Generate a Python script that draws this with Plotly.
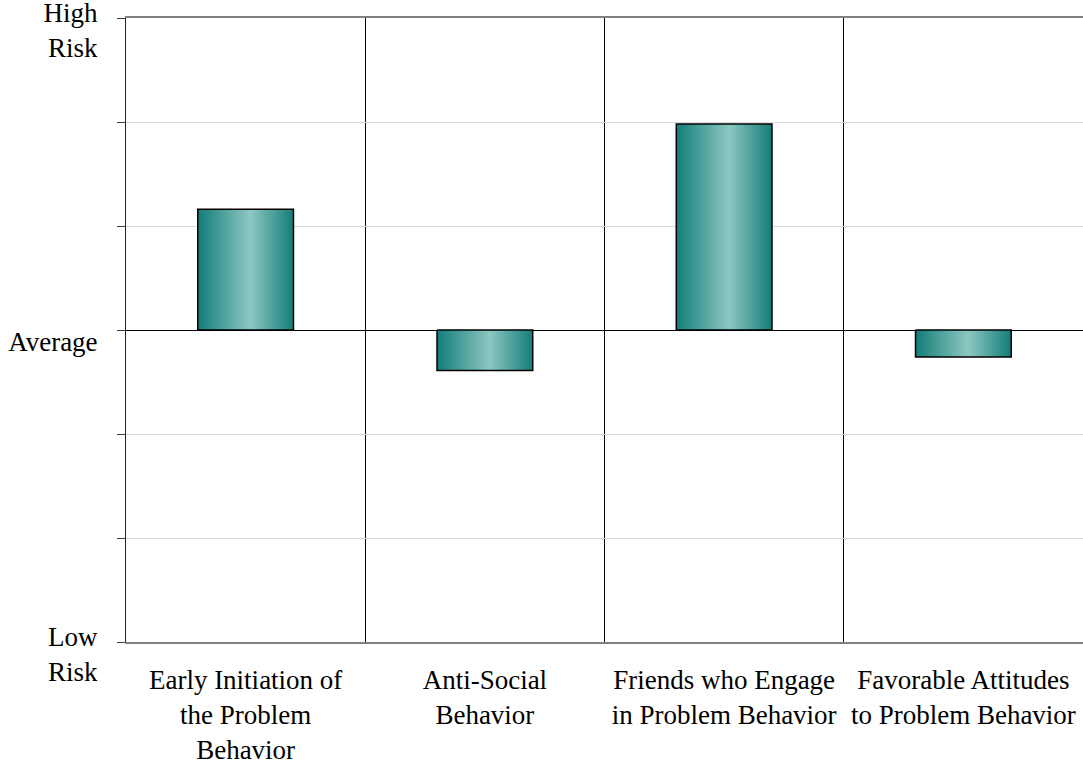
import plotly.graph_objects as go

categories = [
    "Early Initiation of<br>the Problem<br>Behavior",
    "Anti-Social<br>Behavior",
    "Friends who Engage<br>in Problem Behavior",
    "Favorable Attitudes<br>to Problem Behavior",
]
values = [1.16, -0.39, 1.98, -0.26]
y_tick_vals = [-3, -2, -1, 0, 1, 2, 3]
y_tick_text = ["Low<br>Risk", "", "", "Average", "", "", "High<br>Risk"]

BAR_WIDTH = 0.4
FONT = "Liberation Serif, Times New Roman, serif"
FS = 27
gradient = [[0, "#137d78"], [0.55, "#8dc7c2"], [1, "#137d78"]]

fig = go.Figure()
for i, v in enumerate(values):
    x0, x1 = i - BAR_WIDTH / 2, i + BAR_WIDTH / 2
    fig.add_trace(go.Scatter(
        x=[x0, x1, x1, x0, x0],
        y=[0, 0, v, v, 0],
        mode="lines",
        fill="toself",
        fillgradient=dict(type="horizontal", colorscale=gradient),
        line=dict(color="black", width=1.5),
        name=categories[i].replace("<br>", " "),
        showlegend=False,
        hoverinfo="text",
        text=f"{categories[i].replace('<br>', ' ')}: {v}",
    ))

fig.update_layout(
    width=1083, height=762,
    margin=dict(l=126, r=0, t=18, b=120),
    plot_bgcolor="white", paper_bgcolor="white",
    font=dict(family=FONT, size=FS, color="black"),
    showlegend=False,
)
fig.update_xaxes(
    range=[-0.5, 3.5],
    tickmode="array",
    tickvals=list(range(len(categories))),
    ticktext=categories,
    ticks="",
    showgrid=False,
    minor=dict(tick0=0.5, dtick=1, showgrid=True, gridcolor="black", gridwidth=1, ticks=""),
    showline=True, linecolor="#808080", linewidth=1.5, mirror=True,
    zeroline=False,
    automargin=False,
    ticklabeloverflow="allow",
    ticklabelstandoff=13,
    tickfont=dict(family=FONT, size=FS, color="black"),
)
fig.update_yaxes(
    range=[-3, 3],
    tickmode="array",
    tickvals=y_tick_vals,
    ticktext=y_tick_text,
    ticks="outside", ticklen=8, tickcolor="#404040",
    showgrid=True, gridcolor="#d9d9d9", gridwidth=1,
    showline=True, linecolor="#202020", linewidth=1,
    zeroline=True, zerolinecolor="black", zerolinewidth=1,
    automargin=False,
    ticklabeloverflow="allow",
    ticklabelshift=12,
    ticklabelstandoff=14,
    tickfont=dict(family=FONT, size=FS, color="black"),
)

fig.write_html(
    "out.html",
    config={"displayModeBar": False},
    post_script="document.body.style.margin='0';",
)
